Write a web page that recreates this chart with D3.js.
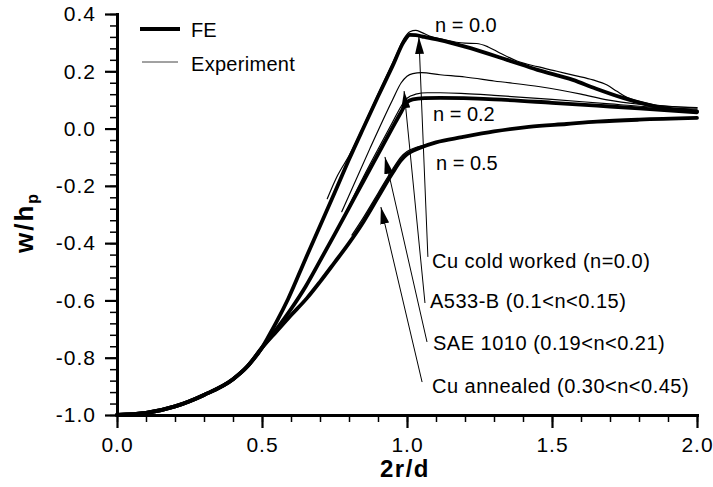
<!DOCTYPE html>
<html>
<head>
<meta charset="utf-8">
<script src="https://cdn.jsdelivr.net/npm/d3@7"></script>
<style>
  html, body { margin: 0; padding: 0; background: #fff; }
  svg { display: block; }
  text { font-family: "Liberation Sans", Arial, Helvetica, sans-serif; fill: #000; }
</style>
</head>
<body>
<svg id="chart" width="713" height="487"></svg>
<script>
// Axis ticks
const xTicks = [0.0, 0.5, 1.0, 1.5, 2.0];
const yTicks = [-1.0, -0.8, -0.6, -0.4, -0.2, 0.0, 0.2, 0.4];

// Finite-element profiles, [2r/d, w/hp]
const feN00 = [[0,-1],[0.1,-0.993],[0.2,-0.97],[0.3,-0.93],[0.4,-0.875],[0.45,-0.83],[0.5,-0.765],[0.52,-0.73],
  [0.55,-0.675],[0.59,-0.595],[0.65,-0.455],[0.7,-0.34],[0.75,-0.225],[0.8,-0.108],[0.85,0.003],[0.9,0.112],
  [0.95,0.218],[0.99,0.305],[1.01,0.327],[1.03,0.326],[1.06,0.32],[1.114,0.309],[1.2,0.286],[1.345,0.24],
  [1.45,0.205],[1.572,0.17],[1.65,0.14],[1.745,0.107],[1.862,0.076],[2.0,0.06]];
const feN02 = [[0,-1],[0.1,-0.993],[0.2,-0.97],[0.3,-0.93],[0.4,-0.875],[0.45,-0.83],[0.5,-0.765],
  [0.55,-0.70],[0.6,-0.63],[0.65,-0.552],[0.7,-0.462],[0.75,-0.37],[0.8,-0.277],[0.85,-0.183],[0.9,-0.09],
  [0.95,0.003],[0.98,0.058],[1.0,0.092],[1.02,0.102],[1.06,0.106],[1.114,0.107],[1.3,0.102],[1.5,0.09],
  [1.7,0.077],[1.85,0.067],[2.0,0.057]];
const feN05 = [[0,-1],[0.1,-0.993],[0.2,-0.97],[0.3,-0.93],[0.4,-0.875],[0.45,-0.83],[0.5,-0.765],
  [0.55,-0.708],[0.6,-0.652],[0.655,-0.592],[0.7,-0.535],[0.75,-0.468],[0.8,-0.4],[0.85,-0.325],[0.9,-0.24],
  [0.95,-0.155],[0.98,-0.11],[1.0,-0.09],[1.02,-0.078],[1.05,-0.065],[1.1,-0.048],[1.19,-0.03],[1.3,-0.01],
  [1.42,0.006],[1.55,0.016],[1.655,0.024],[1.8,0.031],[2.0,0.037]];

// Measured profiles
const expCuCold = [[0.725,-0.245],[0.76,-0.165],[0.8,-0.095],[0.9,0.12],[0.96,0.25],[0.99,0.315],[1.01,0.338],
  [1.03,0.343],[1.05,0.336],[1.08,0.322],[1.12,0.312],[1.2,0.298],[1.24,0.297],[1.28,0.285],[1.32,0.264],
  [1.379,0.236],[1.45,0.216],[1.517,0.2],[1.58,0.185],[1.641,0.17],[1.69,0.152],[1.724,0.13],[1.76,0.108],
  [1.8,0.095],[1.848,0.084],[1.92,0.077],[2.0,0.073]];
const expA533B = [[0.775,-0.29],[0.872,-0.07],[0.95,0.1],[0.98,0.16],[1.0,0.183],[1.02,0.192],[1.05,0.195],
  [1.114,0.188],[1.2,0.18],[1.3,0.166],[1.459,0.146],[1.6,0.12],[1.69,0.1],[1.8,0.085],[1.9,0.077],[2.0,0.072]];
const expSAE1010 = [[0.78,-0.31],[0.85,-0.168],[0.9,-0.072],[0.95,0.022],[0.98,0.078],[1.0,0.106],[1.03,0.12],
  [1.07,0.125],[1.114,0.125],[1.2,0.122],[1.3,0.116],[1.5,0.102],[1.7,0.086],[1.85,0.075],[2.0,0.068]];
const expCuAnnealed = [[0.81,-0.372],[0.85,-0.31],[0.9,-0.226],[0.95,-0.142],[0.98,-0.098],[1.0,-0.08],
  [1.03,-0.066],[1.07,-0.056]];

const hardeningLabels = ["n = 0.0", "n = 0.2", "n = 0.5"];
const materialLabels = ["Cu cold worked (n=0.0)", "A533-B (0.1<n<0.15)", "SAE 1010 (0.19<n<0.21)", "Cu annealed (0.30<n<0.45)"];
const legendLabels = ["FE", "Experiment"];

const svg = d3.select("#chart");
const x = d3.scaleLinear().domain([0, 2]).range([117, 697]);
const y = d3.scaleLinear().domain([-1, 0.4]).range([415, 14]);

const line = d3.line().x(d => x(d[0])).y(d => y(d[1])).curve(d3.curveMonotoneX);

// Arrowhead
svg.append("defs").append("marker")
  .attr("id", "head").attr("markerUnits", "userSpaceOnUse")
  .attr("viewBox", "0 0 17 9")
  .attr("markerWidth", 17).attr("markerHeight", 9)
  .attr("refX", 17).attr("refY", 4.5).attr("orient", "auto")
  .append("path").attr("d", "M0,0 L17,4.5 L0,9 Z").attr("fill", "#000");

// Axes: minor ticks, then major ticks with labels
const fontAxis = '"Liberation Sans", Arial, Helvetica, sans-serif';
const xMinor = d3.range(0, 21).map(i => i * 0.1);
const yMinor = d3.range(0, 36).map(i => -1 + i * 0.04);

svg.append("g").attr("transform", "translate(0,415)")
  .call(d3.axisBottom(x).tickValues(xMinor).tickSize(7).tickFormat("").tickSizeOuter(0))
  .call(g => g.select(".domain").remove())
  .selectAll("line").attr("stroke-width", 1.5);
svg.append("g").attr("transform", "translate(117,0)")
  .call(d3.axisLeft(y).tickValues(yMinor).tickSize(7).tickFormat("").tickSizeOuter(0))
  .call(g => g.select(".domain").remove())
  .selectAll("line").attr("stroke-width", 1.5);

const gx = svg.append("g").attr("transform", "translate(0,415)")
  .call(d3.axisBottom(x).tickValues(xTicks).tickSize(13).tickPadding(9)
    .tickFormat(d => d.toFixed(1)).tickSizeOuter(0));
const gy = svg.append("g").attr("transform", "translate(117,0)")
  .call(d3.axisLeft(y).tickValues(yTicks).tickSize(12).tickPadding(9)
    .tickFormat(d => d.toFixed(1)).tickSizeOuter(0));
[gx, gy].forEach(g => {
  g.attr("font-family", fontAxis).attr("font-size", 21);
  g.select(".domain").attr("stroke-width", 3).attr("stroke-linecap", "square");
  g.selectAll(".tick line").attr("stroke-width", 2.2);
  g.selectAll(".tick text").style("letter-spacing", "1px");
});

// Axis titles
svg.append("text").attr("x", 405).attr("y", 477).attr("text-anchor", "middle")
  .attr("font-size", 24).attr("font-weight", "bold").style("letter-spacing", "1.5px").text("2r/d");
const yt = svg.append("text").attr("transform", "translate(33,253) rotate(-90)")
  .attr("font-size", 26).attr("font-weight", "bold").style("letter-spacing", "2px");
yt.append("tspan").text("w/h");
yt.append("tspan").attr("dy", 5).attr("font-size", 16).text("p");

// Curves
const plot = svg.append("g").attr("fill", "none").attr("stroke", "#000")
  .attr("stroke-linejoin", "round").attr("stroke-linecap", "round");
[expCuCold, expA533B, expSAE1010, expCuAnnealed].forEach(s =>
  plot.append("path").attr("d", line(s)).attr("stroke-width", 1.2));
[feN00, feN02, feN05].forEach(s =>
  plot.append("path").attr("d", line(s)).attr("stroke-width", 3.8));

// Hardening exponent labels
const nPos = [[435, 32], [433, 121], [436, 170]];
hardeningLabels.forEach((t, i) =>
  svg.append("text").attr("x", nPos[i][0]).attr("y", nPos[i][1]).attr("font-size", 20).text(t));

// Material callouts with arrows (tail, tip in data units)
const arrows = [
  [[1.072, -0.448], [1.041, 0.320]],
  [[1.062, -0.609], [0.990, 0.131]],
  [[1.069, -0.745], [0.924, -0.099]],
  [[1.052, -0.885], [0.910, -0.274]]
];
arrows.forEach(a =>
  svg.append("line")
    .attr("x1", x(a[0][0])).attr("y1", y(a[0][1]))
    .attr("x2", x(a[1][0])).attr("y2", y(a[1][1]))
    .attr("stroke", "#000").attr("stroke-width", 1)
    .attr("marker-end", "url(#head)"));
const mPos = [[432, 268], [430, 308], [433, 350], [432, 393]];
materialLabels.forEach((t, i) =>
  svg.append("text").attr("x", mPos[i][0]).attr("y", mPos[i][1])
    .attr("font-size", 20).style("letter-spacing", "0.5px").text(t));

// Legend
const lg = svg.append("g");
lg.append("line").attr("x1", 140).attr("x2", 180).attr("y1", 29).attr("y2", 29)
  .attr("stroke", "#000").attr("stroke-width", 4);
lg.append("line").attr("x1", 142).attr("x2", 178).attr("y1", 62).attr("y2", 62)
  .attr("stroke", "#444").attr("stroke-width", 1);
lg.append("text").attr("x", 191).attr("y", 37).attr("font-size", 20).text(legendLabels[0]);
lg.append("text").attr("x", 191).attr("y", 71).attr("font-size", 20)
  .style("letter-spacing", "0.3px").text(legendLabels[1]);
</script>
</body>
</html>
